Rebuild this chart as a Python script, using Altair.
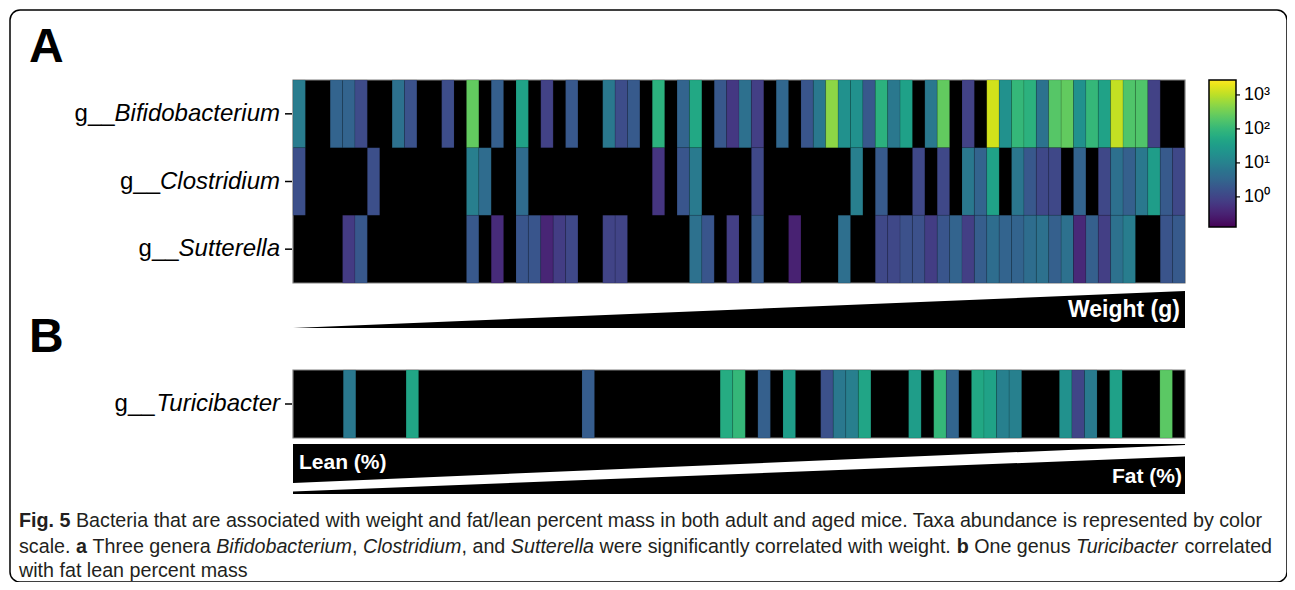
import altair as alt
import pandas as pd

# ---------------- data ----------------
ROWS_A = ["Bifidobacterium", "Clostridium", "Sutterella"]
ROWS_B = ["Turicibacter"]

# abundance per sample (0 = not detected -> black cell); samples sorted by weight
BIFIDO = [8, 0, 0, 3.1, 3.1, 1.2, 0, 0, 5.2, 1.6,
          0, 0, 1.3, 0, 250, 0, 2.5, 0, 40, 0,
          0.9, 0, 2.0, 0, 0, 7, 1.3, 2.1, 0, 75,
          0, 3.1, 52, 0, 2.0, 0.65, 5.0, 0.8, 0, 3.5,
          0, 1.8, 7, 500, 19, 19, 2.0, 75, 7, 38,
          0, 7, 250, 0, 0.9, 0, 1400, 19, 100, 75,
          5.5, 200, 250, 19, 100, 40, 1130, 180, 180, 0.9,
          0, 0]
CLOST = [1.4, 0, 0, 0, 0, 0, 1.4, 0, 0, 0,
         0, 0, 0, 0, 9, 4.3, 0, 0, 4.3, 0,
         0, 0, 0, 0, 0, 0, 0, 0, 0, 0.58,
         0, 1.8, 7.5, 0, 0, 0, 0, 1.1, 0, 0,
         0, 0, 0, 0, 0, 9, 0, 2.1, 0, 0,
         1.1, 0, 1.1, 0, 7, 3.1, 40, 0, 6.5, 2.0,
         1.1, 1.1, 0, 3.1, 0, 1.1, 5.0, 2.6, 7, 33,
         2.1, 1.1]
SUTT = [0, 0, 0, 0, 0.7, 2.0, 0, 0, 0, 0,
        0, 0, 0, 0, 2.0, 0, 0.43, 0, 1.8, 1.8,
        0.35, 0.75, 1.1, 0, 0, 0.95, 0.95, 0, 0, 0,
        0, 0, 5.2, 1.8, 0, 0.8, 0, 2.1, 0, 0,
        0.32, 0, 0, 0, 4.8, 0, 0, 1.1, 1.1, 1.5,
        1.5, 0.75, 1.8, 3.1, 0.8, 2.4, 4.5, 3.1, 3.1, 4.5,
        5.2, 2.6, 5.2, 0.4, 2.6, 0.8, 5.2, 8.5, 0, 0,
        1.7, 2.1]
# samples sorted by fat percent
TURI = [0, 0, 0, 0, 7, 0, 0, 0, 0, 45,
        0, 0, 0, 0, 0, 0, 0, 0, 0, 0,
        0, 0, 0, 2.3, 0, 0, 0, 0, 0, 0,
        0, 0, 0, 0, 60, 100, 0, 2.6, 0, 32,
        0, 0, 1.5, 7, 9, 45, 0, 0, 0, 32,
        0, 100, 3.2, 0, 52, 40, 9.5, 9.5, 0, 0,
        0, 19, 1.0, 7.5, 0, 38, 0, 0, 0, 220,
        0]

LEGEND_TICKS = [1, 10, 100, 1000]
LEGEND_LABELS = ["10\u2070", "10\u00b9", "10\u00b2", "10\u00b3"]
COLOR_DOMAIN = [0.13, 2750]

WEDGE_X = [0, 1]
WEIGHT_TOP = [0, 1]
LEAN_LOW = [0.22, 0.98]
FAT_HIGH = [0.05, 0.75]

CAPTION_LINES = [
    [("Fig. 5", "bold"),
     (" Bacteria that are associated with weight and fat/lean percent mass in both adult and aged mice. Taxa abundance is represented by color", "normal")],
    [("scale. ", "normal"), ("a", "bold"), (" Three genera ", "normal"), ("Bifidobacterium", "italic"),
     (", ", "normal"), ("Clostridium", "italic"), (", and ", "normal"), ("Sutterella", "italic"),
     (" were significantly correlated with weight. ", "normal"), ("b", "bold"), (" One genus ", "normal"),
     ("Turicibacter", "italic"), (" correlated", "normal")],
    [("with fat lean percent mass", "normal")],
]

# ---------------- layout (view origin sits at page x=10, y=10) ----------------
W, H = 1277, 572
X0, X1 = 283, 1175
A_TOP, A_BOT = 70, 273
B_TOP, B_BOT = 360, 428
TA_TOP, TA_BOT = 281, 318
TB_TOP, TB_BOT = 434, 484
LABEL_R = 270
LABEL_FS = 24
FONT = "Liberation Sans"

# Arial / Liberation Sans advance widths (1/1000 em)
_REG = dict(zip("abcdefghijklmnopqrstuvwxyz",
                [556, 556, 500, 556, 556, 278, 556, 556, 222, 222, 500, 222, 833,
                 556, 556, 556, 556, 333, 500, 278, 556, 500, 722, 500, 500, 500]))
_REG.update(zip("ABCDEFGHIJKLMNOPQRSTUVWXYZ",
                [667, 667, 722, 722, 667, 611, 778, 722, 278, 500, 667, 556, 833,
                 722, 778, 667, 778, 722, 667, 611, 722, 667, 944, 667, 667, 611]))
_REG.update({" ": 278, ",": 278, ".": 278, "/": 278, "(": 333, ")": 333, "%": 889, "_": 556, "-": 333})
_REG.update({d: 556 for d in "0123456789"})
_BOLD = dict(zip("abcdefghijklmnopqrstuvwxyz",
                 [556, 611, 556, 611, 556, 333, 611, 611, 278, 278, 556, 278, 889,
                  611, 611, 611, 611, 389, 556, 333, 611, 556, 778, 556, 556, 500]))
_BOLD.update(zip("ABCDEFGHIJKLMNOPQRSTUVWXYZ",
                 [722, 722, 722, 722, 667, 611, 778, 722, 278, 556, 722, 611, 833,
                  722, 778, 667, 778, 722, 667, 611, 722, 667, 944, 667, 667, 611]))
_BOLD.update({" ": 278, ",": 278, ".": 278, "(": 333, ")": 333, "%": 889})
_BOLD.update({d: 556 for d in "0123456789"})


def units(s, table):
    return sum(table.get(c, 556) for c in s)


# ---------------- tables ----------------
def long_table(rows, series):
    recs = []
    for r, vals in zip(rows, series):
        for i, v in enumerate(vals):
            if v > 0:
                recs.append({"row": r, "i": i, "i1": i + 1, "value": v})
    return pd.DataFrame(recs)


dfA = long_table(ROWS_A, [BIFIDO, CLOST, SUTT])
dfB = long_table(ROWS_B, [TURI])
NA = len(BIFIDO)
NB = len(TURI)

cscale = alt.Scale(type="log", scheme="viridis", domain=COLOR_DOMAIN, nice=False)
label_expr = " : ".join(
    f"datum.value == {v} ? '{l}'" for v, l in zip(LEGEND_TICKS, LEGEND_LABELS)) + " : ''"
legend = alt.Legend(title=None, orient="none", legendX=1199, legendY=A_TOP,
                    direction="vertical", gradientLength=147, gradientThickness=27,
                    gradientStrokeColor="black", gradientStrokeWidth=1.5,
                    values=LEGEND_TICKS, labelExpr=label_expr, labelFontSize=18,
                    labelFont=FONT, labelColor="black", labelOffset=8, padding=0,
                    labelOverlap=False)


def heat_layers(df, rows, n, top, bot):
    xs = alt.Scale(domain=[0, n], range=[X0, X1], nice=False, zero=False)
    ys = alt.Scale(type="band", domain=rows, range=[top, bot], paddingInner=0, paddingOuter=0)
    frame = alt.Chart(pd.DataFrame({"a": [0], "b": [n]})).mark_rect(
        fill="black", stroke="#808080", strokeWidth=1.2).encode(
        x=alt.X("a:Q", scale=xs, axis=None), x2="b:Q",
        y=alt.value(top), y2=alt.value(bot))
    cells = alt.Chart(df).mark_rect(stroke="black", strokeWidth=0.4, strokeOpacity=0.25).encode(
        x=alt.X("i:Q", scale=xs, axis=None), x2="i1:Q",
        y=alt.Y("row:N", scale=ys, axis=None),
        color=alt.Color("value:Q", scale=cscale, legend=legend))
    lab = pd.DataFrame({"row": rows,
                        "px": [LABEL_R - units(g, _REG) * LABEL_FS / 1000 for g in rows]})
    ticks = alt.Chart(lab).mark_rule(color="black", strokeWidth=1.5).encode(
        y=alt.Y("row:N", scale=ys, axis=None, bandPosition=0.5),
        x=alt.value(X0 - 8), x2=alt.value(X0 - 1))
    genus = alt.Chart(lab).mark_text(align="right", baseline="middle", font=FONT,
                                     fontSize=LABEL_FS, fontStyle="italic", color="black").encode(
        y=alt.Y("row:N", scale=ys, axis=None, bandPosition=0.5),
        x=alt.value(LABEL_R), text="row:N")
    prefix = alt.Chart(lab).mark_text(align="right", baseline="middle", font=FONT,
                                      fontSize=LABEL_FS, color="black").encode(
        y=alt.Y("row:N", scale=ys, axis=None, bandPosition=0.5),
        x=alt.X("px:Q", scale=None), text=alt.value("g__"))
    return [frame, cells, ticks, genus, prefix]


def wedge(ytop, ybot, yv, y2v):
    df = pd.DataFrame({"x": WEDGE_X, "y": yv, "y2": y2v})
    return alt.Chart(df).mark_area(color="black", interpolate="linear").encode(
        x=alt.X("x:Q", scale=alt.Scale(domain=[0, 1], range=[X0, X1], nice=False), axis=None),
        y=alt.Y("y:Q", scale=alt.Scale(domain=[0, 1], range=[ybot, ytop], nice=False, zero=False), axis=None),
        y2="y2:Q")


def label(text, x, y, align, size, weight="bold", color="white", baseline="middle"):
    return alt.Chart(pd.DataFrame({"t": [text]})).mark_text(
        align=align, baseline=baseline, font=FONT, fontSize=size, fontWeight=weight,
        color=color).encode(x=alt.value(x), y=alt.value(y), text="t:N")


# colorbar ticks
cbar_ticks = alt.Chart(pd.DataFrame({"v": LEGEND_TICKS})).mark_rule(color="black", strokeWidth=1.2).encode(
    y=alt.Y("v:Q", scale=alt.Scale(type="log", domain=COLOR_DOMAIN, range=[A_TOP + 147, A_TOP], nice=False),
            axis=None),
    x=alt.value(1226), x2=alt.value(1230))

# caption runs
CAP_X = 9
CAP_Y = [511, 537, 561]
line1_units = sum(units(t, _BOLD if s == "bold" else _REG) for t, s in CAPTION_LINES[0])
CAP_FS = round((1266 - 19) / line1_units * 1000, 2)
cap_rows = []
for li, line in enumerate(CAPTION_LINES):
    cx = CAP_X
    for txt, style in line:
        table = _BOLD if style == "bold" else _REG
        core = txt.strip(" ")
        lead = len(txt) - len(txt.lstrip(" "))
        trail = len(txt) - len(txt.rstrip(" "))
        cx += lead * table[" "] * CAP_FS / 1000
        cap_rows.append({"text": core, "x": cx, "y": CAP_Y[li], "style": style})
        cx += (units(core, table) + trail * table[" "]) * CAP_FS / 1000
cap_df = pd.DataFrame(cap_rows)


def cap_layer(style, **kw):
    return alt.Chart(cap_df[cap_df["style"] == style]).mark_text(
        align="left", baseline="middle", font=FONT, fontSize=CAP_FS, color="#231f20", **kw).encode(
        x=alt.X("x:Q", scale=None), y=alt.Y("y:Q", scale=None), text="text:N")


layers = []
layers += heat_layers(dfA, ROWS_A, NA, A_TOP, A_BOT)
layers += heat_layers(dfB, ROWS_B, NB, B_TOP, B_BOT)
layers += [
    wedge(TA_TOP, TA_BOT, WEIGHT_TOP, [0, 0]),
    wedge(TB_TOP, TB_BOT, [1, 1], LEAN_LOW),
    wedge(TB_TOP, TB_BOT, FAT_HIGH, [0, 0]),
    label("Weight (g)", 1170, 300, "right", 23),
    label("Lean (%)", 289, 453, "left", 21),
    label("Fat (%)", 1172, 467, "right", 21),
    label("A", 19, 52, "left", 48, color="black", baseline="alphabetic"),
    label("B", 19, 342, "left", 48, color="black", baseline="alphabetic"),
    cbar_ticks,
    cap_layer("normal"),
    cap_layer("bold", fontWeight="bold"),
    cap_layer("italic", fontStyle="italic"),
]

chart = alt.layer(*layers).resolve_scale(x="independent", y="independent").properties(
    width=W, height=H, padding={"left": 2, "top": 2, "right": 0, "bottom": 0},
    background="white"
).configure_view(stroke="black", strokeWidth=1.5, cornerRadius=10, fill="white")

chart.save("out.html", embed_options={"renderer": "svg", "actions": False})
